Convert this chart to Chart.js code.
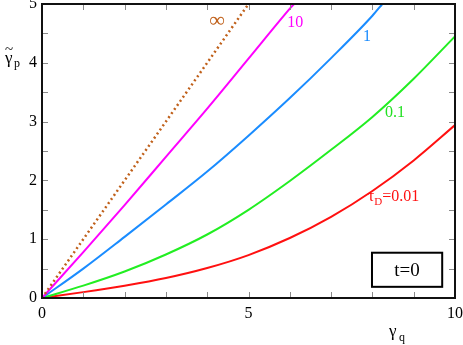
<!DOCTYPE html>
<html>
<head>
<meta charset="utf-8">
<script src="https://cdn.jsdelivr.net/npm/chart.js@4.4.0/dist/chart.umd.min.js"></script>
<style>
  html, body { margin: 0; padding: 0; background: #fff; }
  #wrap { width: 463px; height: 345px; }
</style>
</head>
<body>
<div id="wrap"><canvas id="myChart"></canvas></div>
<script>
// curves of gamma_p vs gamma_q for several tau_D
const xInf = [0, 5];
const yInf = [0, 5];
const x10 = [0, 1, 2, 3, 4, 5, 6, 6.1];
const y10 = [0, 0.78, 1.58, 2.40, 3.22, 4.07, 4.92, 5.0];
const x1 = [0, 1, 2, 3, 4, 5, 6, 7, 8, 8.24];
const y1 = [0, 0.50, 1.04, 1.59, 2.15, 2.76, 3.40, 4.08, 4.80, 5.0];
const xLow = [0, 1, 2, 3, 4, 5, 6, 7, 8, 9, 10];
const y01 = [0, 0.21, 0.45, 0.74, 1.08, 1.50, 1.99, 2.52, 3.08, 3.73, 4.45];
const y001 = [0, 0.10, 0.21, 0.34, 0.51, 0.73, 1.02, 1.38, 1.82, 2.34, 2.94];

const xTicks = [0, 5, 10];
const yTicks = [0, 1, 2, 3, 4, 5];

const serif = "'Liberation Serif', 'DejaVu Serif', serif";

function pts(xs, ys) {
  return xs.map((x, i) => ({ x: x, y: ys[i] }));
}

function line(label, xs, ys, color, dash) {
  return {
    label: label,
    data: pts(xs, ys),
    borderColor: color,
    backgroundColor: color,
    borderWidth: dash ? 2.5 : 2,
    borderDash: dash || [],
    borderCapStyle: "butt",
    pointRadius: 0,
    showLine: true,
    cubicInterpolationMode: "monotone",
  };
}

function drawFrame(chart) {
  const c = chart.ctx;
  const xs = chart.scales.x;
  const ys = chart.scales.y;
  const L = xs.getPixelForValue(0), R = xs.getPixelForValue(10);
  const T = ys.getPixelForValue(5), B = ys.getPixelForValue(0);
  c.save();
  c.setLineDash([]);
  c.globalAlpha = 1;
  c.globalCompositeOperation = "source-over";
  c.strokeStyle = "#111";
  c.lineWidth = 2;
  c.beginPath();
  c.moveTo(L, T); c.lineTo(R, T); c.lineTo(R, B); c.lineTo(L, B); c.closePath();
  c.stroke();

  // small inward ticks
  c.fillStyle = "#8a8a8a";
  for (let v = 1; v < 10; v++) {
    const px = Math.round(xs.getPixelForValue(v));
    c.fillRect(px, B - 6, 1, 5);
    c.fillRect(px, T + 1, 1, 5);
  }
  for (let v = 0.5; v < 5; v += 0.5) {
    const py = Math.round(ys.getPixelForValue(v));
    c.fillRect(L + 1, py, 5, 1);
    c.fillRect(R - 6, py, 5, 1);
  }
  c.restore();
}

// frame, inward minor ticks and all the text labels
const decor = {
  id: "decor",
  beforeDatasetsDraw(chart) {
    drawFrame(chart);
  },
  afterDraw(chart) {
    const c = chart.ctx;
    const xs = chart.scales.x;
    const ys = chart.scales.y;
    drawFrame(chart);
    c.save();

    // curve labels
    c.textBaseline = "middle";
    c.textAlign = "center";
    c.fillStyle = "#c0601a";
    c.font = "22px " + serif;
    c.fillText("\u221E", xs.getPixelForValue(4.24), ys.getPixelForValue(4.71));
    c.fillStyle = "#ff00ff";
    c.font = "16px " + serif;
    c.fillText("10", xs.getPixelForValue(6.13), ys.getPixelForValue(4.68));
    c.fillStyle = "#1a8cff";
    c.fillText("1", xs.getPixelForValue(7.87), ys.getPixelForValue(4.44));
    c.fillStyle = "#22e022";
    c.fillText("0.1", xs.getPixelForValue(8.55), ys.getPixelForValue(3.15));

    c.fillStyle = "#ff1010";
    c.textAlign = "left";
    let tx = xs.getPixelForValue(7.89);
    const ty = ys.getPixelForValue(1.72);
    c.fillText("\u03C4", tx, ty);
    tx += c.measureText("\u03C4").width;
    c.font = "11px " + serif;
    c.fillText("D", tx, ty + 5);
    tx += c.measureText("D").width;
    c.font = "16px " + serif;
    c.fillText("=0.01", tx, ty);

    // t=0 box
    const bl = xs.getPixelForValue(7.99), br = xs.getPixelForValue(9.69);
    const bt = ys.getPixelForValue(0.77), bb = ys.getPixelForValue(0.19);
    c.strokeStyle = "#000";
    c.lineWidth = 2;
    c.strokeRect(bl, bt, br - bl, bb - bt);
    c.fillStyle = "#000";
    c.textAlign = "center";
    c.font = "19px " + serif;
    c.fillText("t=0", (bl + br) / 2, (bt + bb) / 2 + 1);

    // axis titles
    c.textAlign = "left";
    c.textBaseline = "alphabetic";
    c.font = "17px " + serif;
    c.fillText("\u03B3", 5, 63);
    c.font = "15px " + serif;
    c.fillText("~", 5, 54);
    c.font = "12px " + serif;
    c.fillText("p", 14, 67);

    c.font = "17px " + serif;
    c.fillText("\u03B3", 389, 336);
    c.font = "12px " + serif;
    c.fillText("q", 399, 341);

    c.restore();
  },
};

const ctx = document.getElementById("myChart");
const myChart = new Chart(ctx, {
  type: "scatter",
  data: {
    datasets: [
      line("\u221E", xInf, yInf, "#c0601a", [2, 3]),
      line("10", x10, y10, "#ff00ff"),
      line("1", x1, y1, "#1a8cff"),
      line("0.1", xLow, y01, "#22ee22"),
      line("0.01", xLow, y001, "#ff1010"),
    ],
  },
  options: {
    responsive: true,
    maintainAspectRatio: false,
    animation: false,
    layout: { padding: { left: 0, right: 8, top: 4, bottom: 0 } },
    plugins: {
      legend: { display: false },
      tooltip: { enabled: false },
    },
    scales: {
      x: {
        type: "linear",
        min: 0,
        max: 10,
        grid: { display: false, drawTicks: false },
        border: { display: true, color: "#000", width: 2 },
        afterBuildTicks: (s) => { s.ticks = xTicks.map((v) => ({ value: v })); },
        afterFit: (s) => { s.height = 47; s.paddingLeft = 0; s.paddingRight = 0; },
        ticks: {
          color: "#000",
          padding: 6,
          maxRotation: 0,
          font: { size: 16, family: serif },
        },
      },
      y: {
        type: "linear",
        min: 0,
        max: 5,
        grid: { display: false, drawTicks: false },
        border: { display: true, color: "#000", width: 2 },
        afterBuildTicks: (s) => { s.ticks = yTicks.map((v) => ({ value: v })); },
        afterFit: (s) => { s.width = 42; s.paddingTop = 0; s.paddingBottom = 0; },
        ticks: {
          color: "#000",
          padding: 5,
          font: { size: 16, family: serif },
        },
      },
    },
  },
  plugins: [decor],
});
</script>
</body>
</html>
